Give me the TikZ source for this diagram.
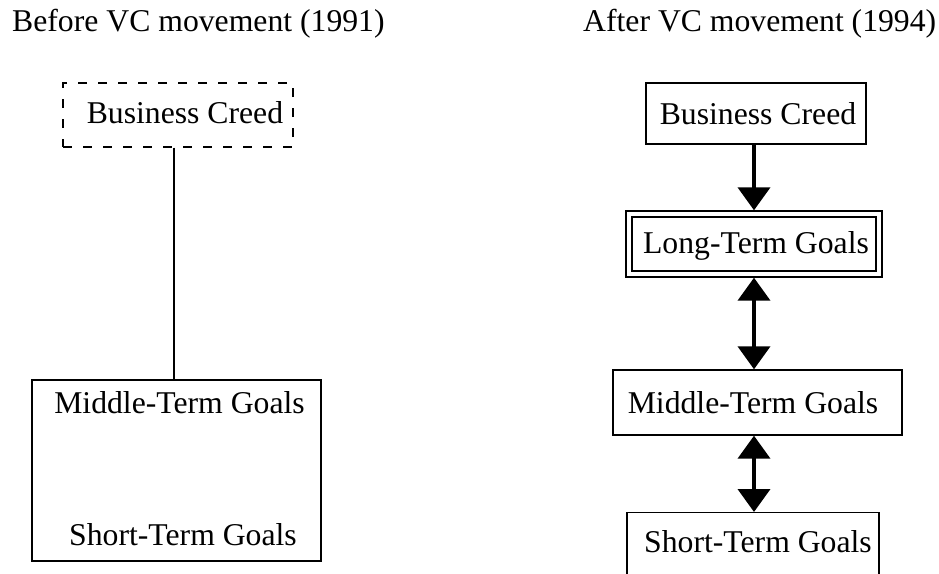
\documentclass[tikz,border=0pt]{standalone}
\usepackage{fontspec}
\setmainfont{Liberation Serif}
\usetikzlibrary{arrows.meta}
\begin{document}
\begin{tikzpicture}[x=1pt,y=-1pt,
  every node/.style={font=\fontsize{31.7}{38}\selectfont, inner sep=0pt, text height=22pt, text depth=0pt},
  box/.style={draw, line width=1.4pt, rectangle},
  dashbox/.style={draw, line width=1.2pt, dash pattern=on 9pt off 11pt},
  dbox/.style={draw, line width=1.4pt, double, double distance=4.6pt},
  link/.style={line width=1.3pt},
  bigarrow/.style={line width=4pt, -{Triangle[width=32pt,length=23pt]}},
  botharrow/.style={line width=4pt, {Triangle[width=32pt,length=23pt]}-{Triangle[width=32pt,length=23pt]}}
]
\useasboundingbox[fill=white] (0,0) rectangle (939,573);

% titles
\node[anchor=base west] (t1) at (12,31) {Before VC movement (1991)};
\node[anchor=base west] (t2) at (583,31) {After VC movement (1994)};

% left: before
\node[dashbox, minimum width=230pt, minimum height=64pt, text depth=6pt] (bc1) at (178,115) {\hspace*{14pt}Business Creed};
\node[box, minimum width=289pt, minimum height=181pt] (g1) at (176.5,470.5) {};
\node[anchor=base] (m1) at (179.5,413) {Middle-Term Goals};
\node[anchor=base] (s1) at (183,545) {Short-Term Goals};
\coordinate (vx) at (174,0);
\draw[link] (bc1.south -| vx) -- (g1.north -| vx);

% right: after
\node[box, minimum width=220pt, minimum height=61pt] (bc2) at (756,113.5) {\hspace*{4pt}Business Creed};
\node[dbox, minimum width=250pt, minimum height=60pt, text depth=4pt] (ltg) at (754,244) {\hspace*{4pt}Long-Term Goals};
\node[box, minimum width=289pt, minimum height=65pt] (mtg) at (757.5,402.5) {Middle-Term Goals\hspace*{9pt}};
\node[box, anchor=north, minimum width=252pt, minimum height=80pt, text depth=22pt] (stg) at (753,512) {\hspace*{10pt}Short-Term Goals};

\coordinate (ax) at (754,0);
\draw[bigarrow, shorten >=3pt] (bc2.south -| ax) -- (ltg.north -| ax);
\draw[botharrow, shorten <=3pt] (ltg.south -| ax) -- (mtg.north -| ax);
\draw[botharrow] (mtg.south -| ax) -- (stg.north -| ax);
\end{tikzpicture}
\end{document}
